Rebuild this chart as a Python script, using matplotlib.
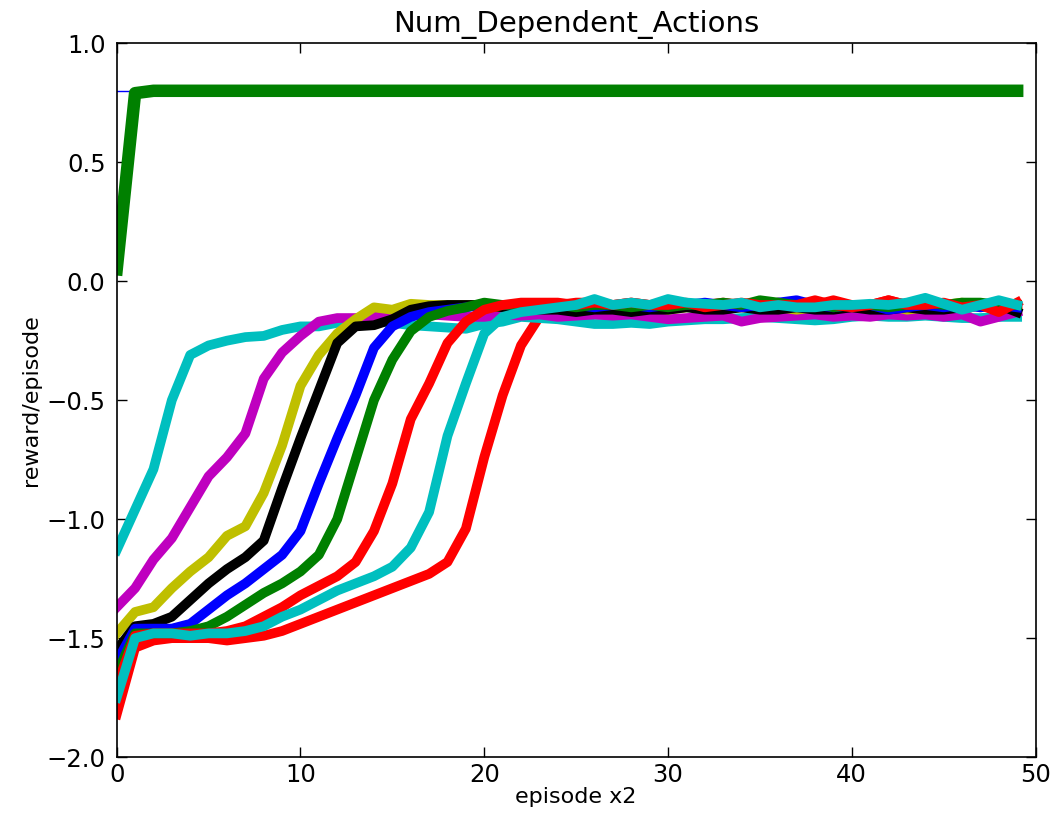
import matplotlib
matplotlib.use("Agg")
import matplotlib.pyplot as plt
import numpy as np

# episodes 0..49
episodes = np.arange(50)

# reward/episode per run
blue0 = [0.80] * 50
green1 = [0.05, 0.79] + [0.80] * 48
red2 = [-1.82, -1.54, -1.51, -1.50, -1.50, -1.50, -1.51, -1.50, -1.49, -1.47,
        -1.44, -1.41, -1.38, -1.35, -1.32, -1.29, -1.26, -1.23, -1.18, -1.04,
        -0.74, -0.48, -0.27, -0.15, -0.10, -0.09, -0.09, -0.10, -0.09, -0.10,
        -0.09, -0.10, -0.10, -0.09, -0.10, -0.10, -0.09, -0.10, -0.10, -0.08,
        -0.10, -0.10, -0.08, -0.10, -0.11, -0.10, -0.12, -0.10, -0.11, -0.10]
cyan3 = [-1.13, -0.96, -0.79, -0.50, -0.31, -0.27, -0.25, -0.235, -0.23, -0.205,
         -0.19, -0.19, -0.175, -0.165, -0.165, -0.175, -0.185, -0.19, -0.195, -0.20,
         -0.18, -0.17, -0.15, -0.155, -0.16, -0.17, -0.18, -0.18, -0.175, -0.18,
         -0.17, -0.165, -0.16, -0.16, -0.155, -0.15, -0.155, -0.16, -0.165, -0.16,
         -0.15, -0.145, -0.15, -0.15, -0.145, -0.15, -0.155, -0.155, -0.15, -0.15]
magenta4 = [-1.37, -1.29, -1.17, -1.08, -0.95, -0.82, -0.74, -0.64, -0.41, -0.30,
            -0.23, -0.17, -0.155, -0.155, -0.15, -0.145, -0.14, -0.14, -0.145, -0.15,
            -0.15, -0.14, -0.145, -0.14, -0.15, -0.145, -0.14, -0.145, -0.14, -0.15,
            -0.16, -0.155, -0.15, -0.145, -0.17, -0.155, -0.15, -0.145, -0.14, -0.15,
            -0.145, -0.15, -0.14, -0.145, -0.14, -0.15, -0.14, -0.17, -0.15, -0.13]
yellow5 = [-1.48, -1.39, -1.37, -1.29, -1.22, -1.16, -1.07, -1.03, -0.89, -0.69,
           -0.44, -0.31, -0.22, -0.16, -0.11, -0.12, -0.095, -0.10, -0.10, -0.10,
           -0.10, -0.11, -0.11, -0.10, -0.11, -0.10, -0.11, -0.11, -0.10, -0.11,
           -0.12, -0.11, -0.10, -0.11, -0.11, -0.10, -0.11, -0.12, -0.11, -0.10,
           -0.11, -0.11, -0.10, -0.12, -0.11, -0.10, -0.09, -0.11, -0.10, -0.11]
black6 = [-1.55, -1.45, -1.44, -1.41, -1.34, -1.27, -1.21, -1.16, -1.09, -0.87,
          -0.66, -0.46, -0.26, -0.19, -0.185, -0.16, -0.12, -0.105, -0.10, -0.10,
          -0.10, -0.11, -0.12, -0.12, -0.12, -0.13, -0.12, -0.12, -0.13, -0.12,
          -0.12, -0.11, -0.12, -0.12, -0.11, -0.12, -0.12, -0.11, -0.12, -0.12,
          -0.11, -0.12, -0.12, -0.11, -0.12, -0.12, -0.11, -0.10, -0.10, -0.13]
blue7 = [-1.60, -1.46, -1.46, -1.46, -1.44, -1.38, -1.32, -1.27, -1.21, -1.15,
         -1.05, -0.85, -0.66, -0.48, -0.28, -0.19, -0.15, -0.13, -0.12, -0.11,
         -0.10, -0.10, -0.10, -0.11, -0.10, -0.10, -0.11, -0.10, -0.10, -0.11,
         -0.10, -0.10, -0.09, -0.10, -0.11, -0.10, -0.09, -0.08, -0.10, -0.11,
         -0.10, -0.10, -0.12, -0.11, -0.10, -0.11, -0.10, -0.11, -0.10, -0.11]
green8 = [-1.65, -1.48, -1.48, -1.48, -1.47, -1.45, -1.41, -1.36, -1.31, -1.27,
          -1.22, -1.15, -1.00, -0.75, -0.50, -0.33, -0.21, -0.15, -0.125, -0.11,
          -0.09, -0.10, -0.10, -0.10, -0.10, -0.11, -0.10, -0.10, -0.11, -0.10,
          -0.11, -0.10, -0.10, -0.09, -0.10, -0.08, -0.09, -0.10, -0.09, -0.11,
          -0.10, -0.10, -0.11, -0.10, -0.09, -0.10, -0.09, -0.09, -0.10, -0.10]
red9 = [-1.70, -1.49, -1.48, -1.48, -1.48, -1.48, -1.47, -1.45, -1.41, -1.37,
        -1.32, -1.28, -1.24, -1.18, -1.05, -0.85, -0.58, -0.43, -0.26, -0.17,
        -0.12, -0.10, -0.09, -0.09, -0.09, -0.10, -0.09, -0.10, -0.09, -0.10,
        -0.10, -0.09, -0.11, -0.10, -0.09, -0.10, -0.10, -0.10, -0.08, -0.10,
        -0.11, -0.10, -0.08, -0.10, -0.10, -0.09, -0.11, -0.10, -0.13, -0.09]
cyan10 = [-1.75, -1.50, -1.48, -1.48, -1.49, -1.48, -1.48, -1.47, -1.45, -1.41,
          -1.38, -1.34, -1.30, -1.27, -1.24, -1.20, -1.12, -0.97, -0.65, -0.43,
          -0.22, -0.15, -0.13, -0.12, -0.11, -0.10, -0.075, -0.10, -0.09, -0.10,
          -0.075, -0.09, -0.095, -0.10, -0.09, -0.11, -0.10, -0.11, -0.11, -0.10,
          -0.10, -0.095, -0.10, -0.09, -0.07, -0.095, -0.12, -0.10, -0.08, -0.10]

runs = [blue0, green1, red2, cyan3, magenta4, yellow5, black6,
        blue7, green8, red9, cyan10]
colors = ['b', 'g', 'r', 'c', 'm', 'y', 'k', 'b', 'g', 'r', 'c']
widths = [1, 9, 7, 7, 7, 7, 7, 7, 7, 7, 7]

plt.rcParams['font.family'] = 'DejaVu Sans'
plt.rcParams['axes.unicode_minus'] = True

fig = plt.figure(figsize=(10.61, 8.15), dpi=100)
ax = fig.add_axes([0.110, 0.071, 0.866, 0.876])

for vals, col, lw in zip(runs, colors, widths):
    ax.plot(episodes, vals, color=col, linewidth=lw)

ax.set_xlim(0, 50)
ax.set_ylim(-2.0, 1.0)
ax.set_xticks([0, 10, 20, 30, 40, 50])
ax.set_yticks([-2.0, -1.5, -1.0, -0.5, 0.0, 0.5, 1.0])
ax.yaxis.set_major_formatter(matplotlib.ticker.FuncFormatter(
    lambda v, p: f"{v:.1f}".replace('-', '\u2212')))
ax.tick_params(direction='in', length=7, width=1, top=True, right=True,
               labelsize=17.5)
ax.tick_params(axis='y', pad=8)
ax.tick_params(axis='x', pad=4)
for sp in ax.spines.values():
    sp.set_linewidth(1.2)

ax.set_title("Num_Dependent_Actions", fontsize=21, pad=8)
ax.set_xlabel("episode x2", fontsize=16, labelpad=0)
ax.set_ylabel("reward/episode", fontsize=16, labelpad=4)

fig.savefig("out.png", dpi=100, facecolor='white')
